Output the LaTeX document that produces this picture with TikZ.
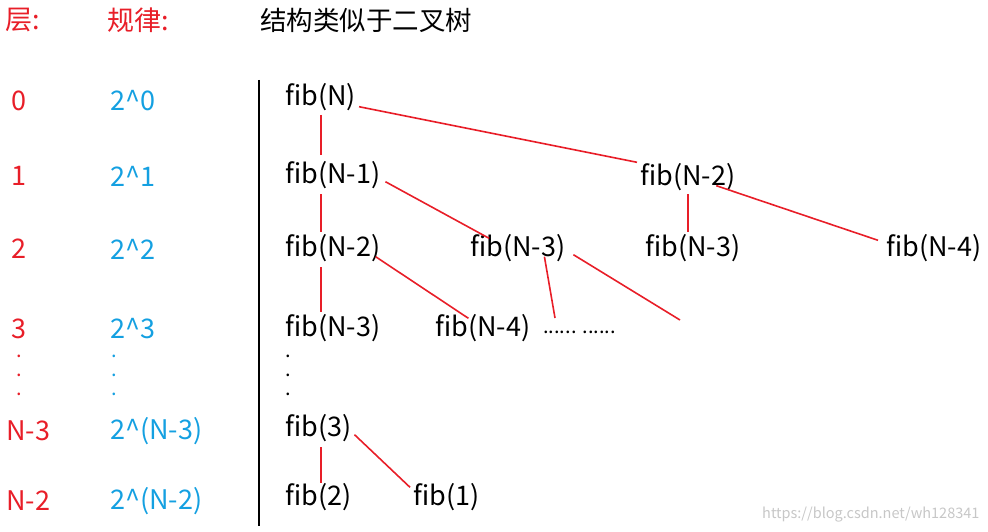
\documentclass[tikz,border=0pt]{standalone}
\usepackage{fontspec}
\setmainfont{Noto Sans CJK SC}
\usetikzlibrary{calc}
\definecolor{myred}{RGB}{232,30,40}
\definecolor{myblue}{RGB}{20,160,225}
\begin{document}
\begin{tikzpicture}[x=1pt,y=-1pt,
  t/.style={inner sep=0pt,anchor=west,font=\fontsize{27}{27}\selectfont},
  fn/.style={t,text height=18pt,text depth=5pt},
  lr/.style={t,text=myred},
  lb/.style={t,text=myblue},
  rl/.style={draw=myred,line width=1.6pt},
  dt/.style={t,font=\fontsize{20}{20}\selectfont}]
\useasboundingbox (0,0) rectangle (988,532);
% headers
\node[lr] (h1) at (5,20) {层:};
\node[lr] (h2) at (107,20) {规律:};
\node[t,font=\fontsize{26.5}{26.5}\selectfont] (h3) at (260,20) {结构类似于二叉树};
% left columns
\node[lr] (l0) at (11,101) {0};
\node[lr] (l1) at (11,176) {1};
\node[lr] (l2) at (11,249) {2};
\node[lr] (l3) at (11,329) {3};
\node[lr] (l4) at (6,431) {N-3};
\node[lr] (l5) at (6,501) {N-2};
\node[lb] (b0) at (110,101) {2\^{}0};
\node[lb] (b1) at (110,176) {2\^{}1};
\node[lb] (b2) at (110,249) {2\^{}2};
\node[lb] (b3) at (110,329) {2\^{}3};
\node[lb] (b4) at (110,431) {2\^{}(N-3)};
\node[lb] (b5) at (110,501) {2\^{}(N-2)};
\foreach \yy [count=\i] in {356,375,394}{
  \node[dt,text=myred] (rd\i) at (16,\yy) {.};
  \node[dt,text=myblue] (bd\i) at (111,\yy) {.};
  \node[dt] (kd\i) at (285,\yy) {.};
}
\draw[line width=1.6pt] (259,80) -- (259,526);
% tree
\node[fn] (n0) at (285,99) {fib(N)};
\node[fn] (n1a) at (285,177) {fib(N-1)};
\node[fn] (n1b) at (640,179) {fib(N-2)};
\node[fn] (n2a) at (285,250) {fib(N-2)};
\node[fn] (n2b) at (470,250) {fib(N-3)};
\node[fn] (n2c) at (645,250) {fib(N-3)};
\node[fn] (n2d) at (886,250) {fib(N-4)};
\node[fn] (n3a) at (285,330) {fib(N-3)};
\node[fn] (n3b) at (435,330) {fib(N-4)};
\node[t,font=\fontsize{20}{20}\selectfont] (n3c) at (543,332) {...... ......};
\node[fn] (f3) at (285,430) {fib(3)};
\node[fn] (f2) at (285,499) {fib(2)};
\node[fn] (f1) at (413,499) {fib(1)};
\coordinate (e1) at (555,318);
\coordinate (e2) at (680,320);
% connectors
\draw[rl] (321,115) -- (321,155);
\draw[rl] ($(n0.south east)+(3,-4)$) -- ($(n1b.north west)+(-3,-5)$);
\draw[rl] (321,194) -- (321,232);
\draw[rl] ($(n1a.south east)+(5,-7)$) -- ($(n2b.north west)!0.2!(n2b.north east)+(0,0)$);
\draw[rl] (688,194) -- (688,232);
\draw[rl] ($(n1b.south west)!0.8!(n1b.south east)+(0,-5)$) -- ($(n2d.north west)+(-8,2)$);
\draw[rl] (321,267) -- (321,312);
\draw[rl] ($(n2a.south west)!0.95!(n2a.south east)+(0,-5)$) -- ($(n3b.north west)!0.35!(n3b.north east)$);
\draw[rl] ($(n2b.south west)!0.78!(n2b.south east)+(0,-5)$) -- (e1);
\draw[rl] ($(n2b.south east)+(8,-7)$) -- (e2);
\draw[rl] (321,447) -- (321,483);
\draw[rl] ($(f3.south east)+(3,-7)$) -- ($(f1.north west)+(-3,0)$);
\node[t,font=\fontsize{14.5}{14.5}\selectfont,text=black!22] (wm) at (762,515) {https://blog.csdn.net/wh128341};
\end{tikzpicture}
\end{document}
